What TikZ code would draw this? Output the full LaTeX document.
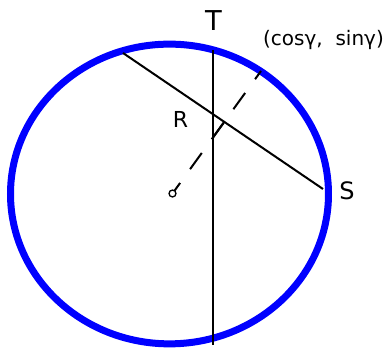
\documentclass[tikz,border=0pt]{standalone}
\usepackage{fontspec}
\setmainfont{DejaVu Sans}
\usetikzlibrary{calc}
\definecolor{rimblue}{RGB}{0,0,255}

\begin{document}
\begin{tikzpicture}[x=0.75pt,y=-0.75pt,
  rim/.style={draw=rimblue,line width=5.25pt},
  seg/.style={draw=black,line width=1.5pt},
  dsh/.style={draw=black,line width=1.5pt,dash pattern=on 15pt off 12.75pt,dash phase=5.25pt},
  lbl/.style={inner sep=0pt,text=black}]
  \useasboundingbox (0,0) rectangle (387,348);
  %% circle
  \coordinate (O) at (172.5,193.5);
  \draw[rim] (169.5,194) ellipse [x radius=119.25pt, y radius=112.4pt];
  %% points
  \coordinate (Tp) at (213,50);
  \coordinate (Bt) at (213,345);
  \coordinate (Ap) at (123,53);
  \coordinate (Sp) at (323,189);
  \coordinate (G) at (261,71);
  \coordinate (Q1) at (213,137.5);
  \coordinate (Q2) at (224.3,121.9);
  %% lines
  \draw[seg] (Tp)--(Bt);
  \draw[seg] (Ap)--(Sp);
  \draw[dsh] (O)--(G);
  \draw[seg] (Q1)--(Q2);
  \draw[black,line width=1pt,fill=white] (O) circle [radius=2.6pt];
  %% labels
  \node[lbl,font=\fontsize{20.5}{21}\selectfont] (T) at (213.5,21) {T};
  \node[lbl,font=\fontsize{16.5}{17}\selectfont] (R) at (180.5,119.5) {R};
  \node[lbl,font=\fontsize{18}{19}\selectfont] (S) at (347,191) {S};
  \node[lbl,font=\fontsize{15}{16}\selectfont] (P) at (323.5,40) {(cosγ,\ \ sinγ)};
\end{tikzpicture}
\end{document}
